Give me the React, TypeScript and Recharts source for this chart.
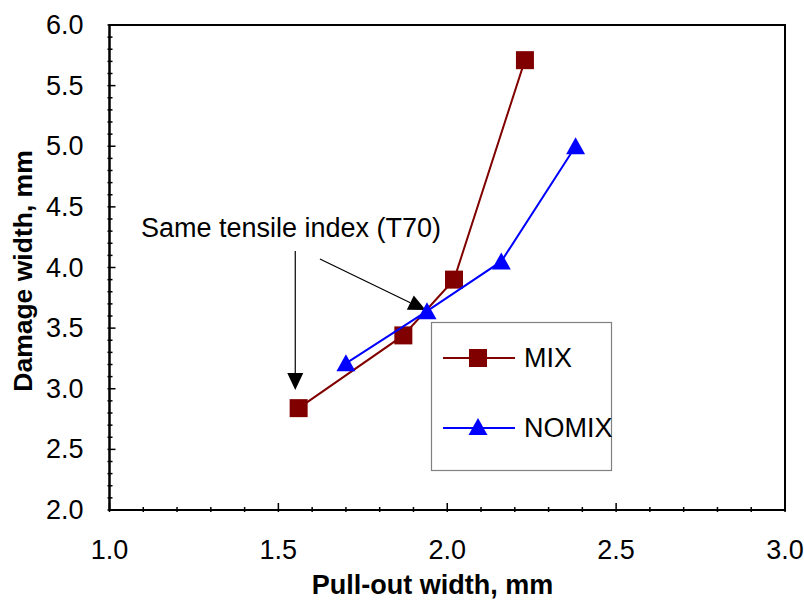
import {
  ComposedChart,
  Scatter,
  XAxis,
  YAxis,
  ReferenceArea,
  ReferenceLine,
  ReferenceDot,
  Legend,
  Label,
} from "recharts";

const FONT = '"Liberation Sans", Arial, Helvetica, sans-serif';

const mixX = [1.56, 1.87, 2.02, 2.23];
const mixY = [2.84, 3.44, 3.9, 5.71];
const nomixX = [1.7, 1.94, 2.16, 2.38];
const nomixY = [3.21, 3.64, 4.05, 5.0];

const seriesNames = ["MIX", "NOMIX"];
const seriesColors = ["#800000", "#0000FF"];

const xTicks = [
  1.0, 1.1, 1.2, 1.3, 1.4, 1.5, 1.6, 1.7, 1.8, 1.9, 2.0, 2.1, 2.2, 2.3, 2.4,
  2.5, 2.6, 2.7, 2.8, 2.9, 3.0,
];
const yTicks = [
  2.0, 2.1, 2.2, 2.3, 2.4, 2.5, 2.6, 2.7, 2.8, 2.9, 3.0, 3.1, 3.2, 3.3, 3.4,
  3.5, 3.6, 3.7, 3.8, 3.9, 4.0, 4.1, 4.2, 4.3, 4.4, 4.5, 4.6, 4.7, 4.8, 4.9,
  5.0, 5.1, 5.2, 5.3, 5.4, 5.5, 5.6, 5.7, 5.8, 5.9, 6.0,
];

// annotation (data units)
const noteText = "Same tensile index (T70)";
const notePos = { x: 1.093, y: 4.326 };
const arrowOne = [
  { x: 1.55, y: 4.136 },
  { x: 1.55, y: 2.99 },
];
const arrowTwo = [
  { x: 1.623, y: 4.07 },
  { x: 1.936, y: 3.649 },
];

const mixData = mixX.map((x, i) => ({ x, y: mixY[i] }));
const nomixData = nomixX.map((x, i) => ({ x, y: nomixY[i] }));

const isMajor = (v: number) => Math.abs(v * 2 - Math.round(v * 2)) < 1e-6;

const renderXTick = (props: any) => {
  const { x, y, payload } = props;
  const major = isMajor(payload.value);
  return (
    <g>
      <line x1={x} y1={y} x2={x} y2={y - (major ? 9 : 5)} stroke="#000" strokeWidth={1.5} />
      {major && (
        <text
          x={x}
          y={y + 38}
          textAnchor="middle"
          dominantBaseline="central"
          fontSize={27}
          fontFamily={FONT}
          fill="#000"
        >
          {payload.value.toFixed(1)}
        </text>
      )}
    </g>
  );
};

const renderYTick = (props: any) => {
  const { x, y, payload } = props;
  const major = isMajor(payload.value);
  return (
    <g>
      <line x1={x} y1={y} x2={x + (major ? 8 : 5)} y2={y} stroke="#000" strokeWidth={1.5} />
      {major && (
        <text
          x={x - 24}
          y={y}
          textAnchor="end"
          dominantBaseline="central"
          fontSize={27}
          fontFamily={FONT}
          fill="#000"
        >
          {payload.value.toFixed(1)}
        </text>
      )}
    </g>
  );
};

const renderSquare = (props: any) => {
  const { cx, cy, fill } = props;
  return <rect x={cx - 9} y={cy - 9} width={18} height={18} fill={fill} />;
};

const renderTriangle = (props: any) => {
  const { cx, cy, fill } = props;
  return (
    <polygon
      points={`${cx},${cy - 9} ${cx + 9.5},${cy + 8} ${cx - 9.5},${cy + 8}`}
      fill={fill}
    />
  );
};

const arrowShape = (props: any) => {
  const { x1, y1, x2, y2 } = props;
  const dx = x2 - x1;
  const dy = y2 - y1;
  const len = Math.hypot(dx, dy);
  const ux = dx / len;
  const uy = dy / len;
  const L = 17;
  const W = 8;
  const bx = x2 - ux * L;
  const by = y2 - uy * L;
  const pts = `${x2},${y2} ${bx - uy * W},${by + ux * W} ${bx + uy * W},${by - ux * W}`;
  return (
    <g>
      <line x1={x1} y1={y1} x2={bx} y2={by} stroke="#000" strokeWidth={1.2} />
      <polygon points={pts} fill="#000" />
    </g>
  );
};

const noteShape = (props: any) => (
  <text
    x={props.cx}
    y={props.cy}
    dominantBaseline="central"
    fontSize={27}
    fontFamily={FONT}
    fill="#000"
  >
    {noteText}
  </text>
);

const renderLegend = () => (
  <svg width={181} height={149} style={{ overflow: "visible", display: "block" }}>
    <rect x={0.5} y={0.5} width={180} height={148} fill="#fff" stroke="#808080" strokeWidth={1.2} />
    {seriesNames.map((name, i) => {
      const cy = i === 0 ? 36 : 106;
      const color = seriesColors[i];
      return (
        <g key={name}>
          <line x1={12} y1={cy} x2={84} y2={cy} stroke={color} strokeWidth={2} />
          {i === 0
            ? renderSquare({ cx: 47, cy, fill: color })
            : renderTriangle({ cx: 47, cy: cy - 1, fill: color })}
          <text
            x={93}
            y={cy}
            dominantBaseline="central"
            fontSize={27}
            fontFamily={FONT}
            fill="#000"
          >
            {name}
          </text>
        </g>
      );
    })}
  </svg>
);

export default function App() {
  return (
    <div style={{ position: "absolute", left: 0, top: 0, width: 804, height: 601 }}>
      <ComposedChart
        width={804}
        height={601}
        margin={{ top: 25, right: 19, bottom: 31, left: 39.5 }}
        style={{ fontFamily: FONT }}
      >
        <ReferenceArea
          x1={1}
          x2={3}
          y1={2}
          y2={6}
          fill="#fff"
          fillOpacity={0}
          stroke="#000"
          strokeWidth={2}
        />
        <XAxis
          type="number"
          dataKey="x"
          domain={[1, 3]}
          ticks={xTicks}
          interval={0}
          tick={renderXTick}
          tickLine={false}
          tickSize={0}
          axisLine={{ stroke: "#000", strokeWidth: 2 }}
          height={60}
          allowDataOverflow
        >
          <Label
            content={() => (
              <text
                x={432.5}
                y={585}
                textAnchor="middle"
                dominantBaseline="central"
                fontSize={27}
                fontWeight="bold"
                fontFamily={FONT}
                fill="#000"
              >
                Pull-out width, mm
              </text>
            )}
          />
        </XAxis>
        <YAxis
          type="number"
          dataKey="y"
          domain={[2, 6]}
          ticks={yTicks}
          interval={0}
          tick={renderYTick}
          tickLine={false}
          tickSize={0}
          axisLine={{ stroke: "#000", strokeWidth: 2 }}
          width={70}
          allowDataOverflow
        >
          <Label
            content={() => (
              <text
                x={23}
                y={271}
                transform="rotate(-90 23 271)"
                textAnchor="middle"
                dominantBaseline="central"
                fontSize={26.5}
                fontWeight="bold"
                fontFamily={FONT}
                fill="#000"
              >
                Damage width, mm
              </text>
            )}
          />
        </YAxis>
        <ReferenceLine segment={arrowOne} shape={arrowShape} />
        <ReferenceLine segment={arrowTwo} shape={arrowShape} />
        <ReferenceDot x={notePos.x} y={notePos.y} r={0} shape={noteShape} />
        <Scatter
          name={seriesNames[0]}
          data={mixData}
          dataKey="y"
          fill={seriesColors[0]}
          line={{ stroke: seriesColors[0], strokeWidth: 2 }}
          lineType="joint"
          shape={renderSquare}
          isAnimationActive={false}
        />
        <Scatter
          name={seriesNames[1]}
          data={nomixData}
          dataKey="y"
          fill={seriesColors[1]}
          line={{ stroke: seriesColors[1], strokeWidth: 2 }}
          lineType="joint"
          shape={renderTriangle}
          isAnimationActive={false}
        />
        <Legend
          layout="horizontal"
          verticalAlign="middle"
          align="center"
          content={renderLegend}
          wrapperStyle={{ position: "absolute", left: 431, top: 322, width: 181, height: 149 }}
        />
      </ComposedChart>
    </div>
  );
}
